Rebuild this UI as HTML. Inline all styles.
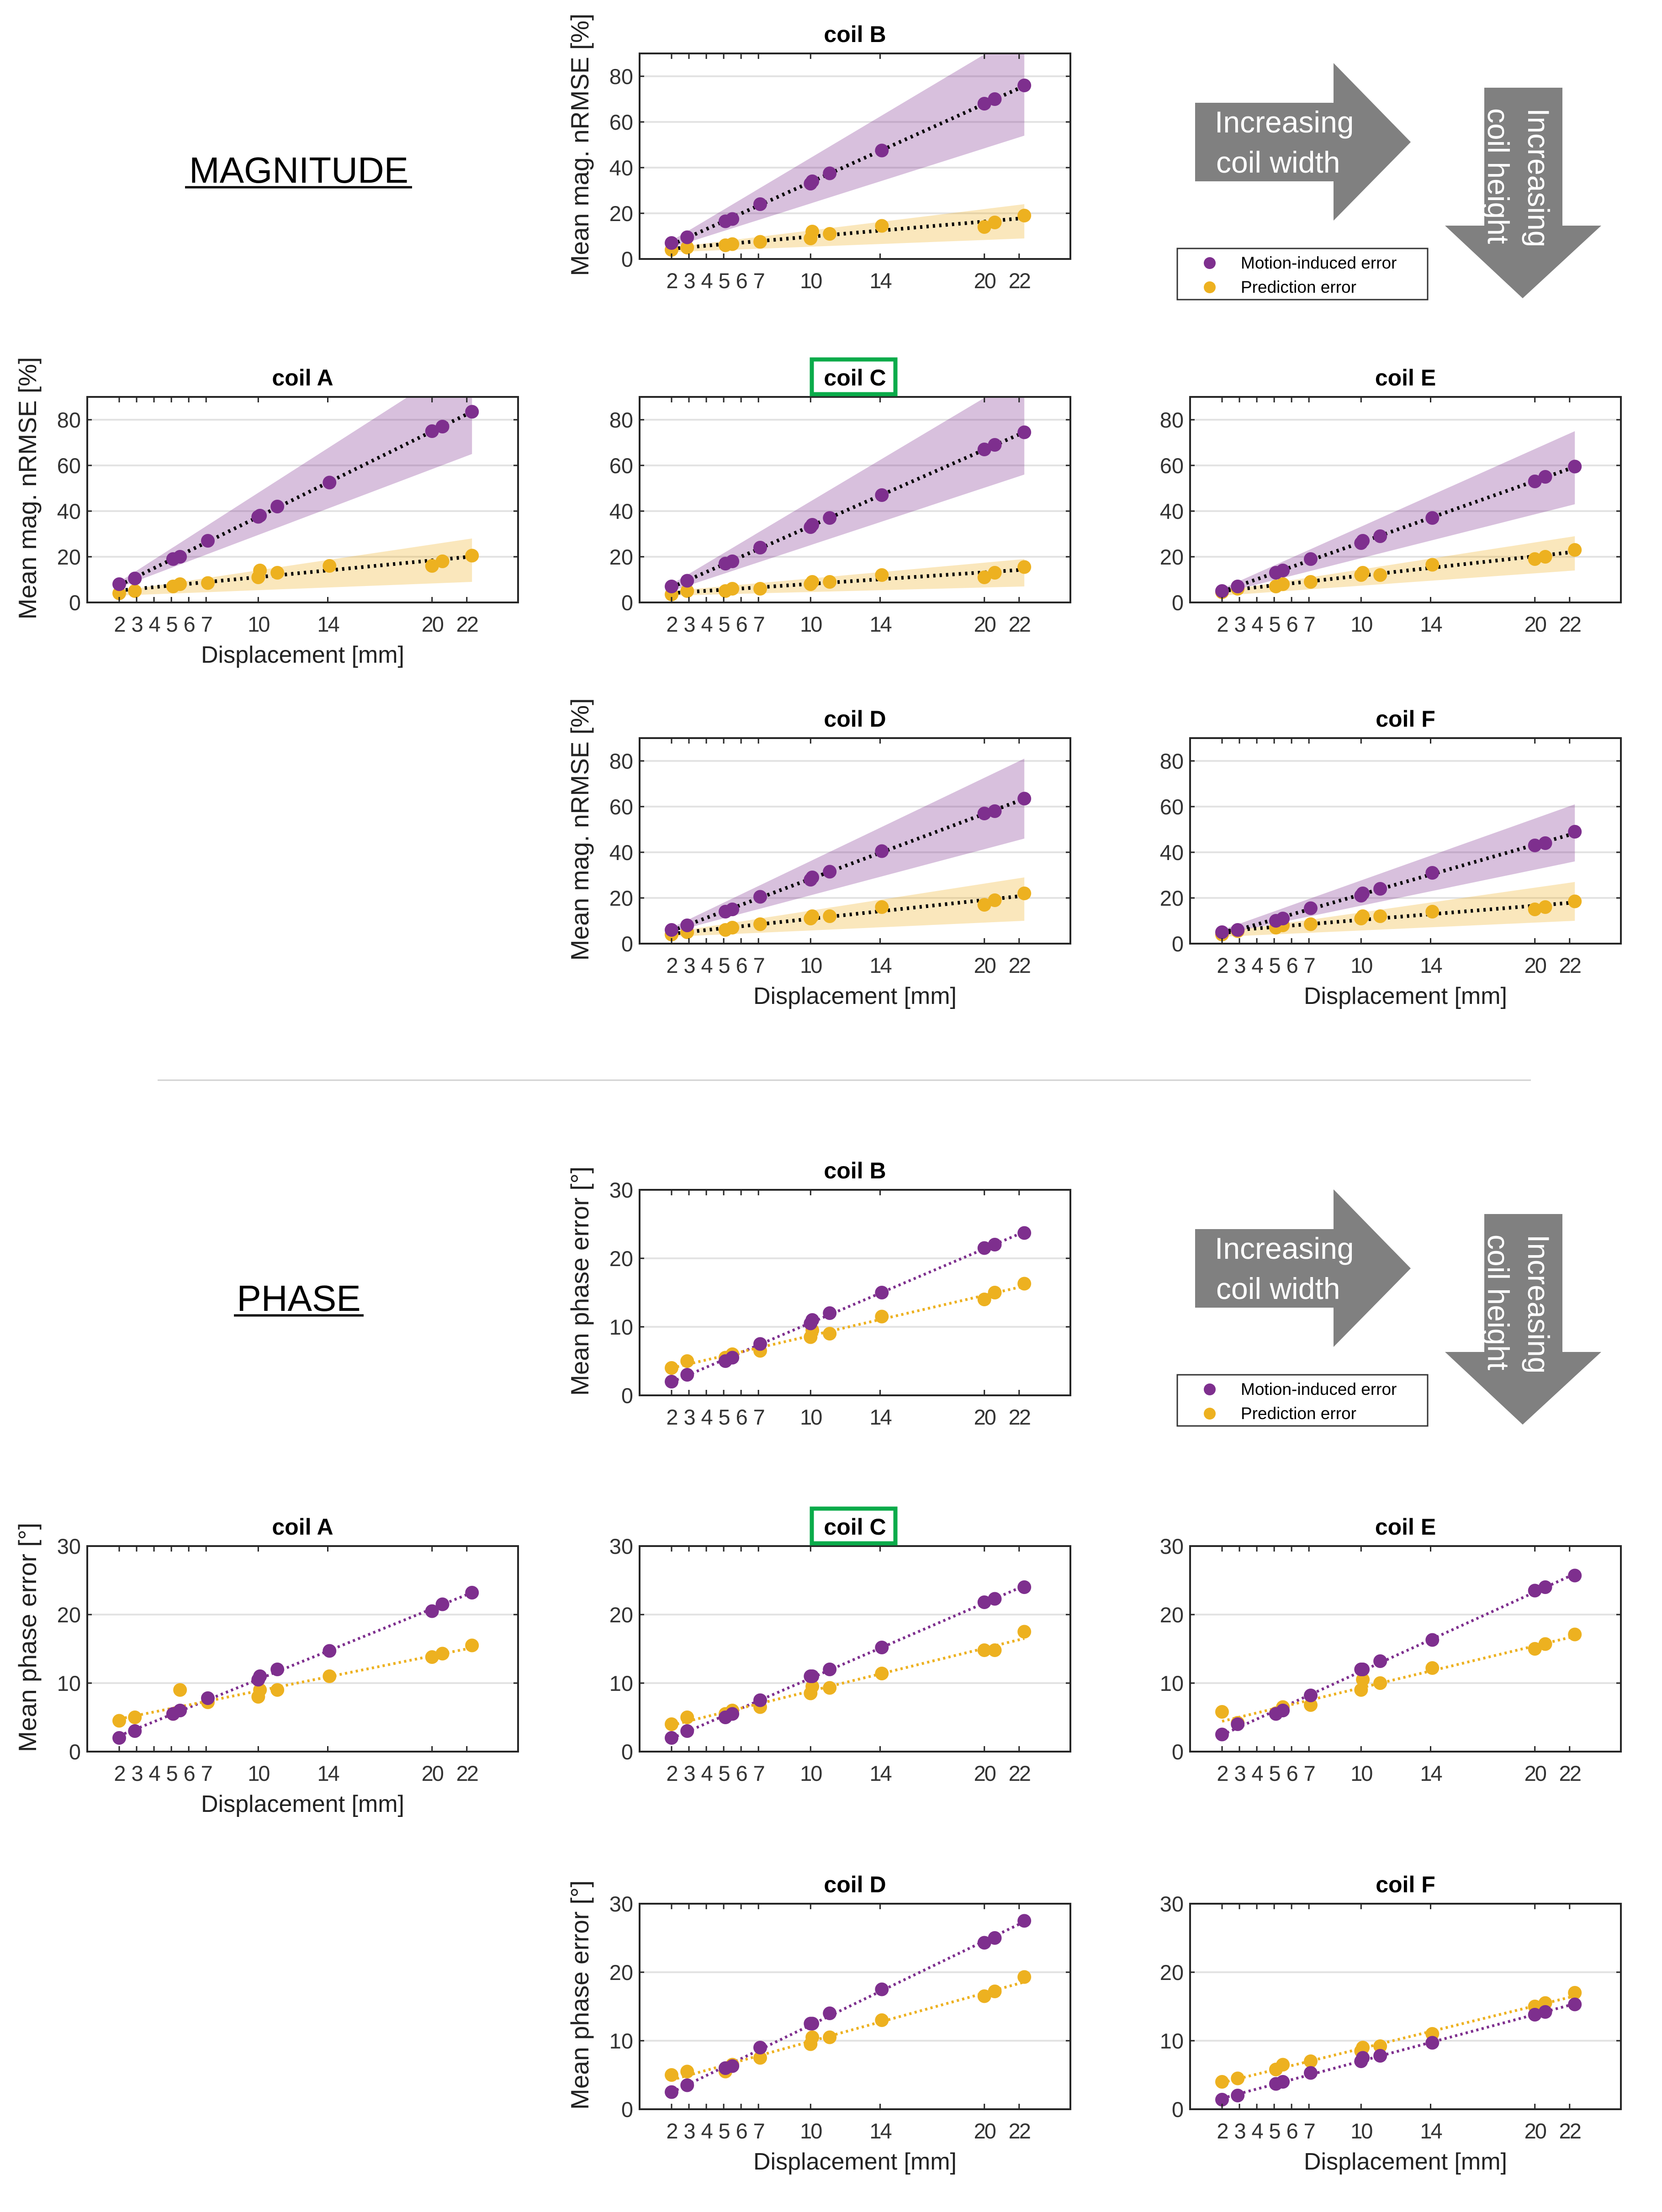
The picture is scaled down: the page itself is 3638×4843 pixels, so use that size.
<!DOCTYPE html>
<html><head><meta charset="utf-8"><style>
html,body{margin:0;padding:0;background:#fff;}
svg{display:block;font-family:"Liberation Sans",Arial,sans-serif;}
</style></head><body>
<svg id="fig" width="3638" height="4843" viewBox="0 0 3638 4843" xmlns="http://www.w3.org/2000/svg">
<rect width="3638" height="4843" fill="#fff"/>
<text x="654" y="400" font-size="80" text-anchor="middle" fill="#000">MAGNITUDE</text>
<line x1="405" y1="410" x2="902" y2="410" stroke="#000" stroke-width="5"/>
<text x="654" y="2870" font-size="80" text-anchor="middle" fill="#000">PHASE</text>
<line x1="512" y1="2880" x2="796" y2="2880" stroke="#000" stroke-width="5"/>
<line x1="345" y1="2365" x2="3351" y2="2365" stroke="#d0d0d0" stroke-width="3"/>
<g id="annots"></g>
<g id="panels"></g>
</svg>
<script>
// x positions of displacements
const displacement = [2, 2.9, 5.1, 5.5, 7.1, 10, 10.1, 11.1, 14.1, 20, 20.6, 22.3];
const xTicks = [2, 3, 4, 5, 6, 7, 10, 14, 20, 22];
const magYTicks = [0, 20, 40, 60, 80];
const phaseYTicks = [0, 10, 20, 30];
const bandX = [2, 22.3];

// Magnitude data
const magMotionA = [8, 10.5, 19, 20, 27, 37.5, 38, 42, 52.5, 75, 77, 83.5];
const magPredA = [4, 5, 7, 8, 8.5, 11, 14, 13, 16, 16, 18, 20.5];
const magMotionBandLoA = [6.5, 65], magMotionBandHiA = [9, 108];
const magPredBandLoA = [3, 9], magPredBandHiA = [5, 28];

const magMotionB = [7, 9.5, 16.5, 17.5, 24, 33, 34, 37.5, 47.5, 68, 70, 76];
const magPredB = [4, 5, 6, 6.5, 7.5, 9, 12, 11, 14.5, 14, 16, 19];
const magMotionBandLoB = [5, 54], magMotionBandHiB = [8, 100];
const magPredBandLoB = [3, 9], magPredBandHiB = [5, 24];

const magMotionC = [7, 9.5, 17, 18, 24, 33, 34, 37, 47, 67, 69, 74.5];
const magPredC = [3.5, 5, 5, 6, 6, 8, 9, 9, 12, 11, 13, 15.5];
const magMotionBandLoC = [5, 56], magMotionBandHiC = [8, 100];
const magPredBandLoC = [3, 7], magPredBandHiC = [5, 19];

const magMotionD = [6, 8, 14, 15, 20.5, 28, 29, 31.5, 40.5, 57, 58, 63.5];
const magPredD = [4, 5, 6, 7, 8.5, 11, 12, 12, 16, 17, 19, 22];
const magMotionBandLoD = [5, 46], magMotionBandHiD = [7, 81];
const magPredBandLoD = [3, 10], magPredBandHiD = [5, 29];

const magMotionE = [5, 7, 13, 14, 19, 26, 27, 29, 37, 53, 55, 59.5];
const magPredE = [4.5, 6, 7, 8, 9, 12, 13, 12, 16.5, 19, 20, 23];
const magMotionBandLoE = [4, 43], magMotionBandHiE = [6, 75];
const magPredBandLoE = [3, 14], magPredBandHiE = [5, 29];

const magMotionF = [5, 6, 10, 11, 15.5, 21, 22, 24, 31, 43, 44, 49];
const magPredF = [4, 5.5, 7, 8, 8.5, 11, 12, 12, 14, 15, 16, 18.5];
const magMotionBandLoF = [4, 36], magMotionBandHiF = [6, 61];
const magPredBandLoF = [3, 10], magPredBandHiF = [5, 27];

// Phase data
const phMotionA = [2, 3, 5.5, 6, 7.8, 10.5, 11, 12, 14.7, 20.5, 21.5, 23.2];
const phPredA = [4.5, 5, 5.5, 9, 7.2, 8, 9, 9, 11, 13.8, 14.3, 15.5];
const phMotionB = [2, 3, 5, 5.5, 7.5, 10.5, 11, 12, 15, 21.5, 22, 23.7];
const phPredB = [4, 5, 5.5, 6, 6.5, 8.5, 9.5, 9, 11.5, 14, 15, 16.3];
const phMotionC = [2, 3, 5, 5.5, 7.5, 11, 11, 12, 15.2, 21.8, 22.3, 24];
const phPredC = [4, 5, 5.5, 6, 6.5, 8.5, 9.5, 9.3, 11.4, 14.8, 14.8, 17.5];
const phMotionD = [2.5, 3.5, 6, 6.3, 9, 12.5, 12.5, 14, 17.5, 24.3, 25, 27.5];
const phPredD = [5, 5.5, 5.5, 6.5, 7.5, 9.5, 10.5, 10.5, 13, 16.5, 17.2, 19.3];
const phMotionE = [2.5, 4, 5.5, 6, 8.2, 12, 12, 13.2, 16.3, 23.5, 24, 25.7];
const phPredE = [5.8, 4.2, 5.6, 6.5, 6.8, 9, 10.5, 10, 12.2, 15, 15.7, 17.1];
const phMotionF = [1.4, 2, 3.7, 4, 5.3, 7, 7.5, 7.8, 9.7, 13.8, 14.2, 15.3];
const phPredF = [4, 4.5, 5.8, 6.5, 7, 8.5, 9, 9.2, 11, 15, 15.5, 17];

const NS = 'http://www.w3.org/2000/svg';
const PURPLE = '#7e2f8e', YELLOW = '#edb120';
function mk(tag, attrs, parent) {
  const e = document.createElementNS(NS, tag);
  for (const k in attrs) e.setAttribute(k, attrs[k]);
  if (parent) parent.appendChild(e);
  return e;
}
function fit(xs, ys) {
  const n = xs.length; let sx = 0, sy = 0, sxx = 0, sxy = 0;
  for (let i = 0; i < n; i++) { sx += xs[i]; sy += ys[i]; sxx += xs[i]*xs[i]; sxy += xs[i]*ys[i]; }
  const b = (n*sxy - sx*sy) / (n*sxx - sx*sx); const a = (sy - b*sx) / n;
  return [a, b];
}

const PW = 943, PH = 450, XMIN = 0.16, XMAX = 24.95;
const panels = [
  {kind:'mag', coil:'B', L:1400, T:117, yl:true, xl:false, m:magMotionB, p:magPredB, bands:[magMotionBandLoB, magMotionBandHiB, magPredBandLoB, magPredBandHiB]},
  {kind:'mag', coil:'A', L:191, T:869, yl:true, xl:true, m:magMotionA, p:magPredA, bands:[magMotionBandLoA, magMotionBandHiA, magPredBandLoA, magPredBandHiA]},
  {kind:'mag', coil:'C', L:1400, T:869, yl:false, xl:false, m:magMotionC, p:magPredC, bands:[magMotionBandLoC, magMotionBandHiC, magPredBandLoC, magPredBandHiC]},
  {kind:'mag', coil:'E', L:2605, T:869, yl:false, xl:false, m:magMotionE, p:magPredE, bands:[magMotionBandLoE, magMotionBandHiE, magPredBandLoE, magPredBandHiE]},
  {kind:'mag', coil:'D', L:1400, T:1616, yl:true, xl:true, m:magMotionD, p:magPredD, bands:[magMotionBandLoD, magMotionBandHiD, magPredBandLoD, magPredBandHiD]},
  {kind:'mag', coil:'F', L:2605, T:1616, yl:false, xl:true, m:magMotionF, p:magPredF, bands:[magMotionBandLoF, magMotionBandHiF, magPredBandLoF, magPredBandHiF]},
  {kind:'phase', coil:'B', L:1400, T:2605, yl:true, xl:false, m:phMotionB, p:phPredB},
  {kind:'phase', coil:'A', L:191, T:3385, yl:true, xl:true, m:phMotionA, p:phPredA},
  {kind:'phase', coil:'C', L:1400, T:3385, yl:false, xl:false, m:phMotionC, p:phPredC},
  {kind:'phase', coil:'E', L:2605, T:3385, yl:false, xl:false, m:phMotionE, p:phPredE},
  {kind:'phase', coil:'D', L:1400, T:4168, yl:true, xl:true, m:phMotionD, p:phPredD},
  {kind:'phase', coil:'F', L:2605, T:4168, yl:false, xl:true, m:phMotionF, p:phPredF}
];

const root = document.getElementById('panels');
panels.forEach((P, idx) => {
  const isMag = P.kind === 'mag';
  const YMAX = isMag ? 90 : 30;
  const yT = isMag ? magYTicks : phaseYTicks;
  const X = v => P.L + (v - XMIN) / (XMAX - XMIN) * PW;
  const Y = v => P.T + PH - v / YMAX * PH;
  const g = mk('g', {}, root);
  
  
  const cid = 'clip' + idx;
  const cp = mk('clipPath', {id: cid}, g);
  mk('rect', {x: P.L, y: P.T, width: PW, height: PH}, cp);
  yT.forEach(t => {
    if (t === 0 || t === YMAX) return;
    const l = mk('line', {x1: P.L, x2: P.L + PW, y1: Y(t), y2: Y(t), stroke: '#e3e3e3', 'stroke-width': 4}, g);
    
    
  });
  const plot = mk('g', {'clip-path': 'url(#' + cid + ')'}, g);
  if (isMag) {
    [[P.bands[0], P.bands[1], 'rgba(126,47,142,0.3)', 'motion-band'], [P.bands[2], P.bands[3], 'rgba(237,177,32,0.3)', 'prediction-band']].forEach(b => {
      const pts = [[bandX[0], b[0][0]], [bandX[1], b[0][1]], [bandX[1], b[1][1]], [bandX[0], b[1][0]]];
      const poly = mk('polygon', {points: pts.map(q => X(q[0]) + ',' + Y(q[1])).join(' '), fill: b[2]}, plot);
      
      
    });
  }
  [[P.m, PURPLE, 'motion'], [P.p, YELLOW, 'prediction']].forEach(s => {
    const [a, b] = fit(displacement, s[0]);
    const x0 = displacement[0], x1 = displacement[displacement.length - 1];
    const ln = mk('line', {x1: X(x0), y1: Y(a + b*x0), x2: X(x1), y2: Y(a + b*x1),
      stroke: isMag ? '#000' : s[1], 'stroke-width': isMag ? 8 : 6, 'stroke-dasharray': isMag ? '5 9' : '5 7'}, plot);
    
    
  });
  [[P.p, YELLOW, 'prediction'], [P.m, PURPLE, 'motion']].forEach(s => {
    s[0].forEach((v, i) => {
      const c = mk('circle', {cx: X(displacement[i]), cy: Y(v), r: 15, fill: s[1]}, plot);
      
      
    });
  });
  const box = mk('rect', {x: P.L, y: P.T, width: PW, height: PH, fill: 'none', stroke: '#262626', 'stroke-width': 4}, g);
  
  
  xTicks.forEach(t => {
    mk('line', {x1: X(t), x2: X(t), y1: P.T + PH, y2: P.T + PH - 12, stroke: '#262626', 'stroke-width': 3}, g);
    mk('line', {x1: X(t), x2: X(t), y1: P.T, y2: P.T + 12, stroke: '#262626', 'stroke-width': 3}, g);
    const tx = mk('text', {x: X(t), y: P.T + PH + 64, 'font-size': 47, 'text-anchor': 'middle', fill: '#333', 'letter-spacing': '-3'}, g);
    tx.textContent = t;
    
    
  });
  yT.forEach(t => {
    mk('line', {x1: P.L, x2: P.L + 10, y1: Y(t), y2: Y(t), stroke: '#262626', 'stroke-width': 3}, g);
    mk('line', {x1: P.L + PW, x2: P.L + PW - 10, y1: Y(t), y2: Y(t), stroke: '#262626', 'stroke-width': 3}, g);
    const ty = mk('text', {x: P.L - 14, y: Y(t) + 17, 'font-size': 47, 'text-anchor': 'end', fill: '#333'}, g);
    ty.textContent = t;
    
    
  });
  const tt = mk('text', {x: P.L + PW/2, y: P.T - 25, 'font-size': 50, 'font-weight': 'bold', 'text-anchor': 'middle', fill: '#000'}, g);
  tt.textContent = 'coil ' + P.coil;
  
  
  if (P.coil === 'C') {
    const gb = mk('rect', {x: 1777, y: P.T - 82, width: 183, height: 76, fill: 'none', stroke: '#0aab4a', 'stroke-width': 9}, g);
    
    
  }
  if (P.yl) {
    const cx = P.L - 112, cy = P.T + PH/2 - 25;
    const yl = mk('text', {x: cx, y: cy, 'font-size': 55, 'text-anchor': 'middle', fill: '#222', transform: 'rotate(-90 ' + cx + ' ' + cy + ')'}, g);
    yl.textContent = isMag ? 'Mean mag. nRMSE [%]' : 'Mean phase error [°]';
    
    
  }
  if (P.xl) {
    const xl = mk('text', {x: P.L + PW/2, y: P.T + PH + 132, 'font-size': 52, 'text-anchor': 'middle', fill: '#222'}, g);
    xl.textContent = 'Displacement [mm]';
    
    
  }
});

const ann = document.getElementById('annots');
[0, 2466].forEach((dy, k) => {
  const g = mk('g', {transform: 'translate(0,' + dy + ')'}, ann);
  
  
  const ra = mk('polygon', {points: '2616,225 2919,225 2919,138 3088,311 2919,483 2919,397 2616,397', fill: '#808080'}, g);
  
  
  const t1 = mk('text', {x: 2659, y: 290, 'font-size': 66, fill: '#fff'}, g); t1.textContent = 'Increasing';
  
  
  const t2 = mk('text', {x: 2662, y: 378, 'font-size': 66, fill: '#fff'}, g); t2.textContent = 'coil width';
  
  
  const da = mk('polygon', {points: '3249,192 3420,192 3420,494 3505,494 3333,653 3163,494 3249,494', fill: '#808080'}, g);
  
  
  const t3 = mk('text', {x: 3345, y: 237, 'font-size': 66, fill: '#fff', transform: 'rotate(90 3345 237)'}, g); t3.textContent = 'Increasing';
  
  
  const t4 = mk('text', {x: 3257, y: 237, 'font-size': 66, fill: '#fff', transform: 'rotate(90 3257 237)'}, g); t4.textContent = 'coil height';
  
  
  const lg = mk('g', {}, g);
  
  
  mk('rect', {x: 2577, y: 544, width: 548, height: 112, fill: '#fff', stroke: '#333', 'stroke-width': 3}, lg);
  [[PURPLE, 'Motion-induced error', 588], [YELLOW, 'Prediction error', 641]].forEach(e => {
    const eg = mk('g', {}, lg);
    
    
    mk('circle', {cx: 2648, cy: e[2] - 12, r: 13, fill: e[0]}, eg);
    const tx = mk('text', {x: 2716, y: e[2], 'font-size': 37, fill: '#000'}, eg); tx.textContent = e[1];
  });
});
</script>
</body></html>
